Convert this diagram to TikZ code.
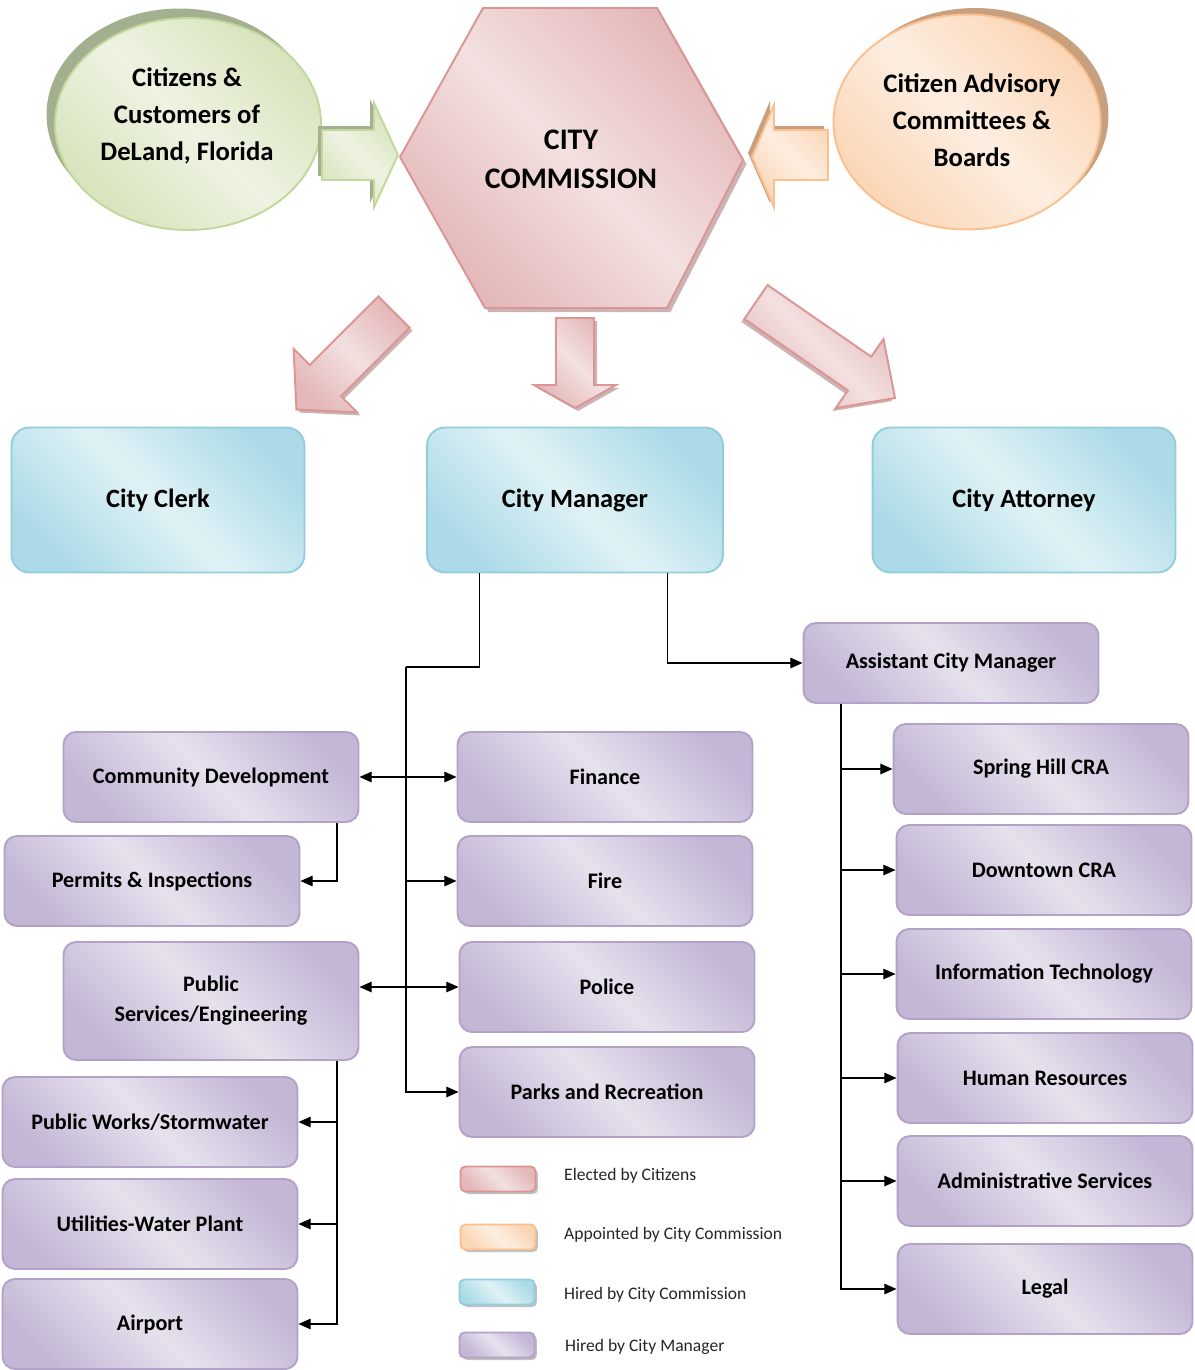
\documentclass[tikz,border=0pt]{standalone}
\usepackage{fontspec}
\setmainfont{Carlito}
\usetikzlibrary{shapes.geometric,arrows.meta,calc,shadows}

\definecolor{pinkline}{HTML}{D99694}
\definecolor{pinklight}{HTML}{F3E0E0}
\definecolor{pinkdark}{HTML}{E4B8B9}
\definecolor{greenline}{HTML}{C3D69B}
\definecolor{greenlight}{HTML}{EEF3E2}
\definecolor{greendark}{HTML}{D7E4BD}
\definecolor{greenshade}{HTML}{A3B08F}
\definecolor{orangeline}{HTML}{FAC090}
\definecolor{orangelight}{HTML}{FDEEE1}
\definecolor{orangedark}{HTML}{FBD6B6}
\definecolor{orangeshade}{HTML}{C9A07E}
\definecolor{blueline}{HTML}{93CDDD}
\definecolor{bluelight}{HTML}{E0F2F6}
\definecolor{bluedark}{HTML}{ACDBE7}
\definecolor{purpline}{HTML}{B3A2C7}
\definecolor{purplight}{HTML}{E6E1ED}
\definecolor{purpdark}{HTML}{C4B7D6}

\tikzset{
  elected/.style={draw=pinkline, line width=1.1pt, left color=pinkdark, right color=pinkdark, middle color=pinklight, shading angle=135},
  citizen/.style={draw=greenline, line width=1.1pt, left color=greendark, right color=greendark, middle color=greenlight, shading angle=135},
  appointed/.style={draw=orangeline, line width=1.1pt, left color=orangedark, right color=orangedark, middle color=orangelight, shading angle=135},
  hired/.style={rectangle, rounded corners=0.36cm, draw=blueline, line width=1.1pt, left color=bluedark, right color=bluedark, middle color=bluelight, shading angle=135, minimum height=2.9cm, font=\fontsize{15}{18}\selectfont\bfseries},
  staff/.style={rectangle, rounded corners=0.25cm, draw=purpline, line width=1.1pt, left color=purpdark, right color=purpdark, middle color=purplight, shading angle=135, minimum width=5.9cm, minimum height=1.8cm, align=center, font=\fontsize{12.6}{17}\selectfont\bfseries},
  keybox/.style={rectangle, rounded corners=0.1cm, line width=1pt, minimum width=1.5cm, minimum height=0.5cm, drop shadow={shadow xshift=0.05cm, shadow yshift=-0.05cm, fill=black, opacity=.25}},
  keytext/.style={anchor=west, font=\fontsize{10}{12}\selectfont, text=black!85},
  bigtext/.style={align=center, font=\fontsize{15.2}{21}\selectfont\bfseries},
  conn/.style={draw=black, line width=0.8pt},
  >={Triangle[length=7pt,width=6pt]}
}

\begin{document}
\begin{tikzpicture}[x=0.02cm, y=-0.02cm]
\useasboundingbox (0,0) rectangle (1195,1370);

% top row
\node[citizen, ellipse, minimum width=5.32cm, minimum height=4.24cm,
  drop shadow={shadow xshift=-0.17cm, shadow yshift=0.19cm, fill=greenshade, opacity=1}] (cit) at (188,124) {};
\node[bigtext] (citTxt) at (187,116) {Citizens \&\\Customers of\\DeLand, Florida};
\node[appointed, ellipse, minimum width=5.34cm, minimum height=4.3cm,
  drop shadow={shadow xshift=0.16cm, shadow yshift=0.13cm, fill=orangeshade, opacity=1}] (adv) at (967,122) {};
\node[bigtext] (advTxt) at (972,120) {Citizen Advisory\\Committees \&\\Boards};

\draw[elected, drop shadow={shadow xshift=0.07cm, shadow yshift=-0.08cm, fill=pinkline!70!black, opacity=.5}]
  (400,157) -- (483,8) -- (657,8) -- (743,160) -- (667,308) -- (485,308) -- cycle;
\node[font=\fontsize{17}{22}\selectfont\bfseries, align=center] (comm) at (571,159) {CITY\\COMMISSION};

% block arrows
\draw[citizen, drop shadow={shadow xshift=-0.08cm, shadow yshift=0.08cm, fill=greenshade, opacity=1}]
  (322,130) -- (374,130) -- (374,103) -- (398,155) -- (374,207) -- (374,180) -- (322,180) -- cycle;
\draw[appointed, drop shadow={shadow xshift=-0.08cm, shadow yshift=0.08cm, fill=orangeshade, opacity=1}]
  (828,130) -- (774,130) -- (774,105) -- (752,157) -- (774,207) -- (774,180) -- (828,180) -- cycle;
\draw[elected, drop shadow={shadow xshift=0.06cm, shadow yshift=-0.06cm, fill=pinkline!70!black, opacity=.5}]
  (556,318) -- (594,318) -- (594,385) -- (616,385) -- (575,408) -- (534,385) -- (556,385) -- cycle;
\draw[elected, drop shadow={shadow xshift=0.06cm, shadow yshift=-0.06cm, fill=pinkline!70!black, opacity=.5}]
  (378.4,296.4) -- (309.8,365) -- (293.6,348.8) -- (296.4,409.6) -- (357.2,412.4) -- (341,396.2) -- (409.6,327.6) -- cycle;
\draw[elected, drop shadow={shadow xshift=-0.06cm, shadow yshift=-0.06cm, fill=pinkline!70!black, opacity=.5}]
  (767.6,285.1) -- (871.2,356.7) -- (883.5,339.1) -- (895,398) -- (835.7,408.1) -- (848,390.5) -- (744.4,318.9) -- cycle;

% hired by the commission
\node[hired, minimum width=5.86cm] (clerk) at (158,500) {City Clerk};
\node[hired, minimum width=5.92cm] (cm) at (575,500) {City Manager};
\node[hired, minimum width=6.06cm] (atty) at (1024,500) {City Attorney};

% hired by the city manager
\node[staff, minimum height=1.6cm] (acm) at (951,663) {Assistant City Manager};
\node[staff] (cd) at (211,777) {Community Development};
\node[staff] (pi) at (152,881) {Permits \& Inspections};
\node[staff, minimum height=2.36cm] (ps) at (211,1001) {Public\\Services/Engineering};
\node[staff] (pw) at (150,1122) {Public Works/Stormwater};
\node[staff] (uwp) at (150,1224) {Utilities-Water Plant};
\node[staff] (air) at (150,1324) {Airport};
\node[staff] (fin) at (605,777) {Finance};
\node[staff] (fire) at (605,881) {Fire};
\node[staff] (pol) at (607,987) {Police};
\node[staff] (parks) at (607,1092) {Parks and Recreation};
\node[staff] (shcra) at (1041,769) {Spring Hill CRA};
\node[staff] (dtcra) at (1044,870) {Downtown CRA};
\node[staff] (it) at (1044,974) {Information Technology};
\node[staff] (hr) at (1045,1078) {Human Resources};
\node[staff] (adm) at (1045,1181) {Administrative Services};
\node[staff] (legal) at (1045,1289) {Legal};

% connectors
\coordinate (trunk) at (406,667);
\coordinate (cmL) at ($(cm.south west)!.18!(cm.south east)$);
\coordinate (cmR) at ($(cm.south west)!.81!(cm.south east)$);
\coordinate (cdbus) at ($(cd.south west)!.925!(cd.south east)$);
\coordinate (psbus) at ($(ps.south west)!.925!(ps.south east)$);
\coordinate (acmbus) at ($(acm.south west)!.13!(acm.south east)$);
\draw[conn] (cmL) |- (trunk);
\draw[conn, ->] (trunk) |- (parks.west);
\draw[conn, <->] (cd.east) -- (fin.west);
\draw[conn, ->] (trunk |- fire.west) -- (fire.west);
\draw[conn, <->] (ps.east |- pol.west) -- (pol.west);
\draw[conn, ->] (cmR) |- (acm.west);
\draw[conn, ->] (cdbus) |- (pi.east);
\draw[conn, ->] (psbus) |- (pw.east);
\draw[conn, ->] (psbus) |- (uwp.east);
\draw[conn, ->] (psbus) |- (air.east);
\draw[conn, ->] (acmbus) |- (shcra.west);
\draw[conn, ->] (acmbus) |- (dtcra.west);
\draw[conn, ->] (acmbus) |- (it.west);
\draw[conn, ->] (acmbus) |- (hr.west);
\draw[conn, ->] (acmbus) |- (adm.west);
\draw[conn, ->] (acmbus) |- (legal.west);

% legend
\node[keybox, elected] (keyE) at (498,1179) {};
\node[keybox, appointed] (keyA) at (498,1237) {};
\node[keybox, hired, rounded corners=0.1cm, minimum height=0.5cm, minimum width=1.5cm] (keyH) at (497,1292) {};
\node[keybox, staff, rounded corners=0.1cm, minimum height=0.5cm, minimum width=1.5cm] (keyM) at (497,1345) {};
\node[keytext] (txtE) at (558,1176) {Elected by Citizens};
\node[keytext] (txtA) at (558,1235) {Appointed by City Commission};
\node[keytext] (txtH) at (558,1295) {Hired by City Commission};
\node[keytext] (txtM) at (559,1347) {Hired by City Manager};
\end{tikzpicture}
\end{document}
